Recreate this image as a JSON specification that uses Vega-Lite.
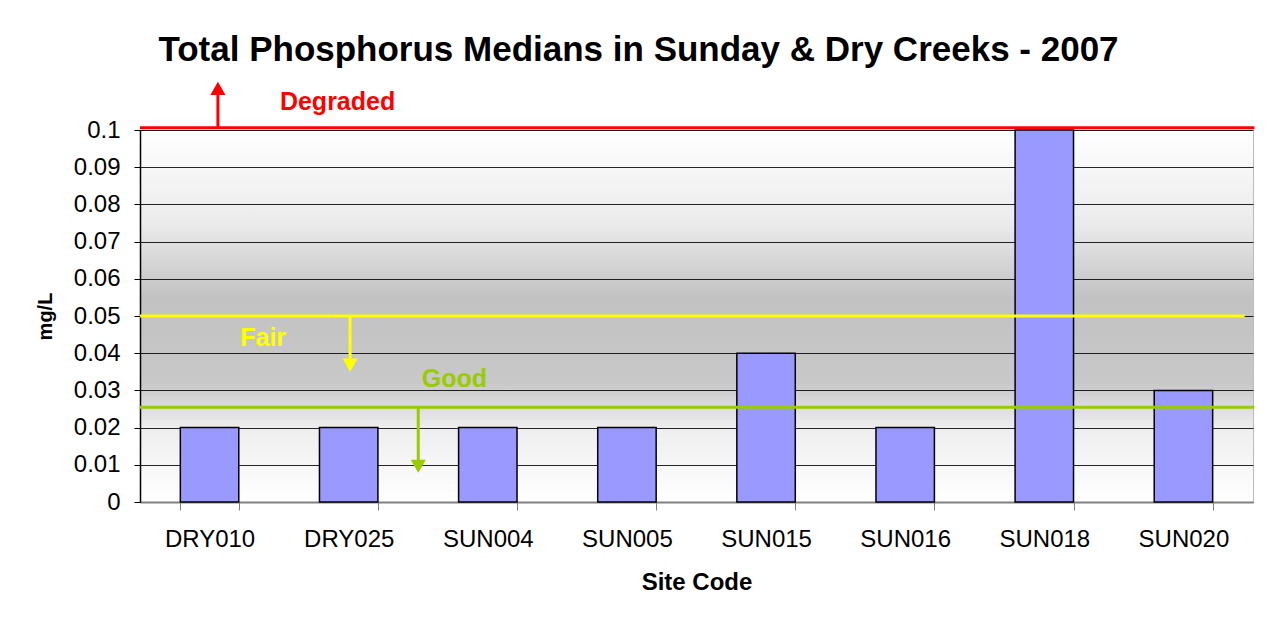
{
  "$schema": "https://vega.github.io/schema/vega-lite/v6.json",
  "width": 1113,
  "height": 372,
  "autosize": "none",
  "padding": {"left": 140, "top": 130, "right": 17, "bottom": 120},
  "background": "white",
  "title": {
    "text": "Total Phosphorus Medians in Sunday & Dry Creeks - 2007",
    "font": "Liberation Sans",
    "fontSize": 35,
    "fontWeight": "bold",
    "color": "black",
    "anchor": "middle",
    "dx": -58,
    "offset": 14
  },
  "datasets": {
    "bars": [
      {"site": "DRY010", "tp": 0.02},
      {"site": "DRY025", "tp": 0.02},
      {"site": "SUN004", "tp": 0.02},
      {"site": "SUN005", "tp": 0.02},
      {"site": "SUN015", "tp": 0.04},
      {"site": "SUN016", "tp": 0.02},
      {"site": "SUN018", "tp": 0.1},
      {"site": "SUN020", "tp": 0.03}
    ],
    "thresholds": [
      {"level": "Degraded", "y": 0.1006, "x1": 0, "x2": 8.01},
      {"level": "Fair", "y": 0.05, "x1": 0, "x2": 7.94},
      {"level": "Good", "y": 0.0255, "x1": 0, "x2": 8.01}
    ],
    "arrows": [
      {"level": "Degraded", "x": 0.56, "y1": 0.1006, "y2": 0.1112, "dir": "up"},
      {"level": "Fair", "x": 1.51, "y1": 0.05, "y2": 0.0368, "dir": "down"},
      {"level": "Good", "x": 2.0, "y1": 0.0255, "y2": 0.0096, "dir": "down"}
    ],
    "labels": [
      {"level": "Degraded", "x": 1.42, "y": 0.1075, "label": "Degraded"},
      {"level": "Fair", "x": 0.885, "y": 0.0441, "label": "Fair"},
      {"level": "Good", "x": 2.26, "y": 0.0331, "label": "Good"}
    ]
  },
  "config": {
    "font": "Liberation Sans",
    "view": {
      "stroke": "#BBBBBB",
      "strokeWidth": 1,
      "fill": {
        "gradient": "linear",
        "x1": 0, "y1": 0, "x2": 0, "y2": 1,
        "stops": [
          {"offset": 0, "color": "#FFFFFF"},
          {"offset": 0.25, "color": "#EBEBEB"},
          {"offset": 0.45, "color": "#C2C2C2"},
          {"offset": 0.68, "color": "#C8C8C8"},
          {"offset": 0.8, "color": "#EEEEEE"},
          {"offset": 1, "color": "#FFFFFF"}
        ]
      }
    }
  },
  "resolve": {"scale": {"x": "independent"}, "axis": {"x": "independent"}},
  "layer": [
    {
      "data": {"name": "bars"},
      "mark": {"type": "bar", "fill": "#9999FF", "stroke": "black", "strokeWidth": 1.5},
      "encoding": {
        "x": {
          "field": "site",
          "type": "nominal",
          "sort": null,
          "scale": {"paddingInner": 0.58, "paddingOuter": 0.29},
          "axis": {
            "title": "Site Code",
            "titleFont": "Liberation Sans",
            "titleFontSize": 24,
            "titleFontWeight": "bold",
            "titleColor": "black",
            "titlePadding": 19,
            "labelAngle": 0,
            "labelFontSize": 24,
            "labelColor": "black",
            "labelPadding": 17,
            "labelOverlap": false,
            "tickBand": "extent",
            "tickColor": "#808080",
            "tickSize": 8,
            "domainColor": "#808080",
            "domainWidth": 2,
            "grid": false
          }
        },
        "y": {
          "field": "tp",
          "type": "quantitative",
          "scale": {"domain": [0, 0.1], "nice": false, "zero": true},
          "axis": {
            "title": "mg/L",
            "titleFontSize": 20,
            "titleFontWeight": "bold",
            "titleColor": "black",
            "titlePadding": 18,
            "values": [0, 0.01, 0.02, 0.03, 0.04, 0.05, 0.06, 0.07, 0.08, 0.09, 0.1],
            "tickCount": 11,
            "format": "~g",
            "labelFontSize": 24,
            "labelColor": "black",
            "labelPadding": 14,
            "labelOverlap": false,
            "tickColor": "black",
            "tickSize": 6,
            "domainColor": "black",
            "domainWidth": 1.5,
            "grid": true,
            "gridColor": "black",
            "gridWidth": 1,
            "gridOpacity": 0.85
          }
        }
      }
    },
    {
      "data": {"name": "thresholds"},
      "mark": {"type": "rule", "strokeWidth": 3},
      "encoding": {
        "x": {"field": "x1", "type": "quantitative", "scale": {"domain": [0, 8], "nice": false, "zero": false}, "axis": null},
        "x2": {"field": "x2"},
        "y": {"field": "y", "type": "quantitative"},
        "color": {
          "field": "level",
          "type": "nominal",
          "scale": {"domain": ["Degraded", "Fair", "Good"], "range": ["#FF0000", "#FFFF00", "#99CC00"]},
          "legend": null
        }
      }
    },
    {
      "data": {"name": "arrows"},
      "mark": {"type": "rule", "strokeWidth": 3},
      "encoding": {
        "x": {"field": "x", "type": "quantitative", "scale": {"domain": [0, 8], "nice": false, "zero": false}, "axis": null},
        "y": {"field": "y1", "type": "quantitative"},
        "y2": {"field": "y2"},
        "color": {
          "field": "level",
          "type": "nominal",
          "scale": {"domain": ["Degraded", "Fair", "Good"], "range": ["#FF0000", "#FFFF00", "#99CC00"]},
          "legend": null
        }
      }
    },
    {
      "data": {"name": "arrows"},
      "mark": {"type": "point", "filled": true, "opacity": 1, "size": 230},
      "encoding": {
        "x": {"field": "x", "type": "quantitative", "scale": {"domain": [0, 8], "nice": false, "zero": false}, "axis": null},
        "y": {"field": "y2", "type": "quantitative"},
        "shape": {
          "field": "dir",
          "type": "nominal",
          "scale": {"domain": ["up", "down"], "range": ["triangle-up", "triangle-down"]},
          "legend": null
        },
        "color": {
          "field": "level",
          "type": "nominal",
          "scale": {"domain": ["Degraded", "Fair", "Good"], "range": ["#FF0000", "#FFFF00", "#99CC00"]},
          "legend": null
        }
      }
    },
    {
      "data": {"name": "labels"},
      "mark": {"type": "text", "fontSize": 25, "fontWeight": "bold", "baseline": "middle", "align": "center"},
      "encoding": {
        "x": {"field": "x", "type": "quantitative", "scale": {"domain": [0, 8], "nice": false, "zero": false}, "axis": null},
        "y": {"field": "y", "type": "quantitative"},
        "text": {"field": "label"},
        "color": {
          "field": "level",
          "type": "nominal",
          "scale": {"domain": ["Degraded", "Fair", "Good"], "range": ["#FF0000", "#FFFF00", "#99CC00"]},
          "legend": null
        }
      }
    }
  ]
}
